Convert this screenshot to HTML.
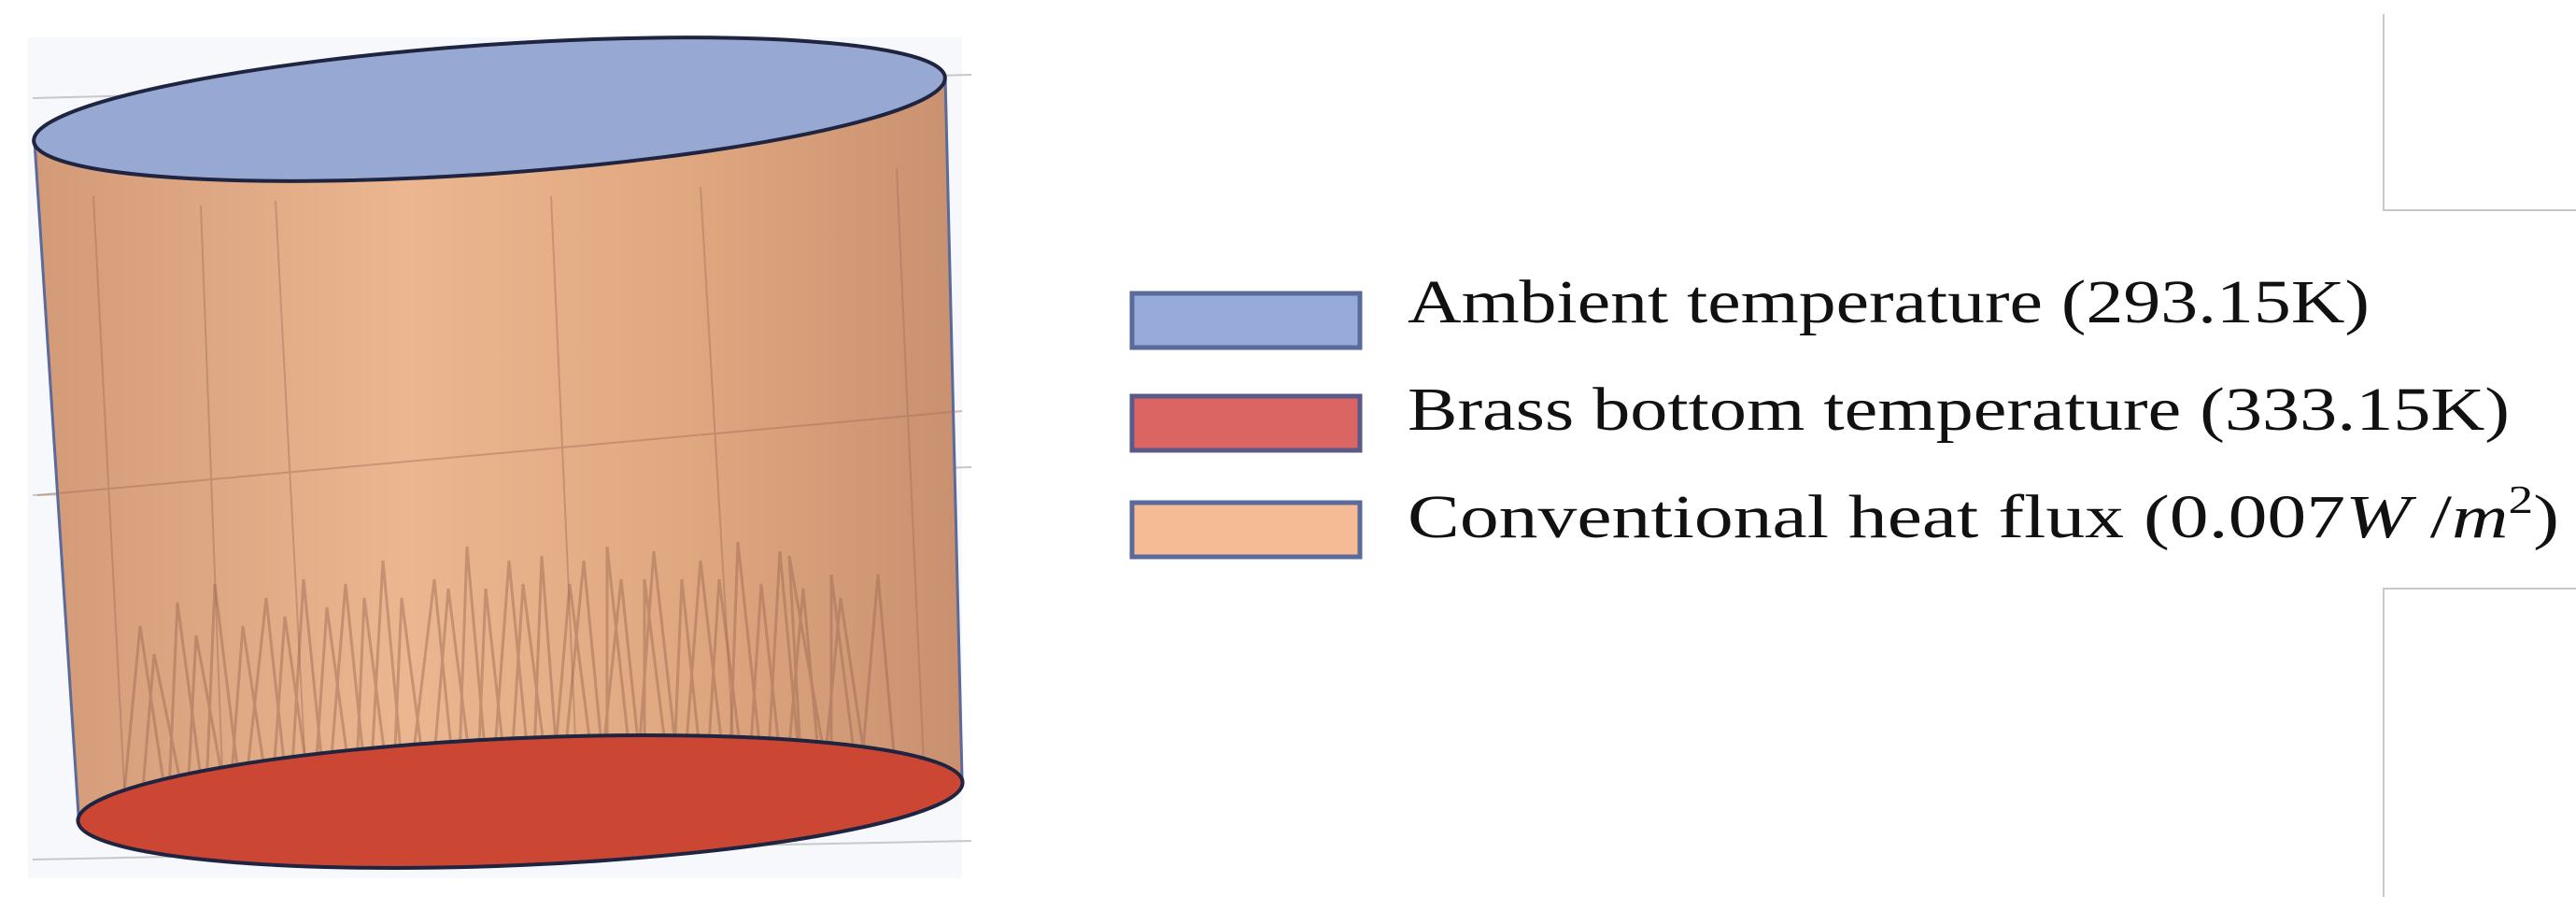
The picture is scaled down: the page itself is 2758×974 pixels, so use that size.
<!DOCTYPE html>
<html><head><meta charset="utf-8"><style>
html,body{margin:0;padding:0;background:#fff;}
svg{display:block;}
</style></head><body>
<svg width="2758" height="974" viewBox="0 0 2758 974" xmlns="http://www.w3.org/2000/svg">
<defs>
<linearGradient id="body" x1="0" x2="1" y1="0" y2="0">
<stop offset="0" stop-color="#d39a78"/>
<stop offset="0.4" stop-color="#ebb690"/>
<stop offset="0.7" stop-color="#e0a880"/>
<stop offset="1" stop-color="#c99070"/>
</linearGradient>
</defs>
<rect x="30" y="40" width="1000" height="900" fill="#f6f8fb"/>
<g stroke="#c8c8c8" stroke-width="2" fill="none">
<line x1="35" y1="105" x2="1040" y2="80"/>
<line x1="35" y1="530" x2="1040" y2="500"/>
<line x1="35" y1="920" x2="1040" y2="900"/>
</g>
<path d="M37,152 L84,872 A474,66 -2 0 0 1030,832 L1012,82 Z" fill="url(#body)" stroke="#5a6a9a" stroke-width="3"/>
<g stroke="#a0705a" stroke-width="2" fill="none" opacity="0.45">
<line x1="100" y1="210" x2="135" y2="880"/>
<line x1="215" y1="220" x2="240" y2="880"/>
<line x1="295" y1="215" x2="330" y2="880"/>
<line x1="590" y1="210" x2="620" y2="880"/>
<line x1="750" y1="200" x2="790" y2="880"/>
<line x1="960" y1="180" x2="990" y2="840"/>
<line x1="40" y1="530" x2="1030" y2="440"/>
</g>
<g stroke="#9a6850" stroke-width="3" fill="none" opacity="0.45">
<polyline points="130,880 150,670 180,870 190,645 220,870 230,625 260,870 285,640 310,870 325,620 350,870 370,625 395,870 410,600 435,870 465,620 490,870 500,585 525,870 545,600 570,860 580,595 600,860 625,600 650,860 650,585 680,860 700,590 730,860 750,600 780,860 790,580 820,860 835,590 860,860 845,595 890,850 890,615 920,850 940,615 960,840"/>
<polyline points="150,880 165,700 200,870 210,680 245,870 260,670 290,870 305,660 335,870 350,650 380,870 390,640 420,870 430,640 460,870 480,630 510,870 520,630 545,860 560,625 590,860 610,625 640,860 665,620 690,860 690,620 720,860 730,620 755,860 770,620 800,860 815,625 840,855 860,630 880,850 900,640 930,840"/>
</g>
<ellipse cx="524" cy="117" rx="489" ry="69" transform="rotate(-4 524 117)" fill="#97a9d2" stroke="#1f2440" stroke-width="4"/>
<ellipse cx="557" cy="858" rx="474" ry="68" transform="rotate(-2.5 557 858)" fill="#cc4634" stroke="#1f2440" stroke-width="4"/>
<g stroke="#c8c8c8" stroke-width="2" fill="none">
<polyline points="2552,15 2552,225 2758,225"/>
<polyline points="2552,960 2552,630 2758,630"/>
</g>
<rect x="1212" y="314" width="244" height="58" fill="#97abda" stroke="#5a6a9a" stroke-width="5"/>
<rect x="1212" y="424" width="244" height="58" fill="#da6562" stroke="#5a5a8a" stroke-width="5"/>
<rect x="1212" y="538" width="244" height="58" fill="#f5bb94" stroke="#5a6a9a" stroke-width="5"/>
<g font-family="Liberation Serif, serif" font-size="66" fill="#111">
<text x="1507" y="345" textLength="1030" lengthAdjust="spacingAndGlyphs">Ambient temperature (293.15K)</text>
<text x="1507" y="460" textLength="1180" lengthAdjust="spacingAndGlyphs">Brass bottom temperature (333.15K)</text>
<text x="1507" y="575" textLength="1233" lengthAdjust="spacingAndGlyphs">Conventional heat flux (0.007<tspan font-style="italic">W</tspan> /<tspan font-style="italic">m</tspan><tspan font-size="42" dy="-26">2</tspan><tspan dy="26">)</tspan></text>
</g>
</svg>
</body></html>
